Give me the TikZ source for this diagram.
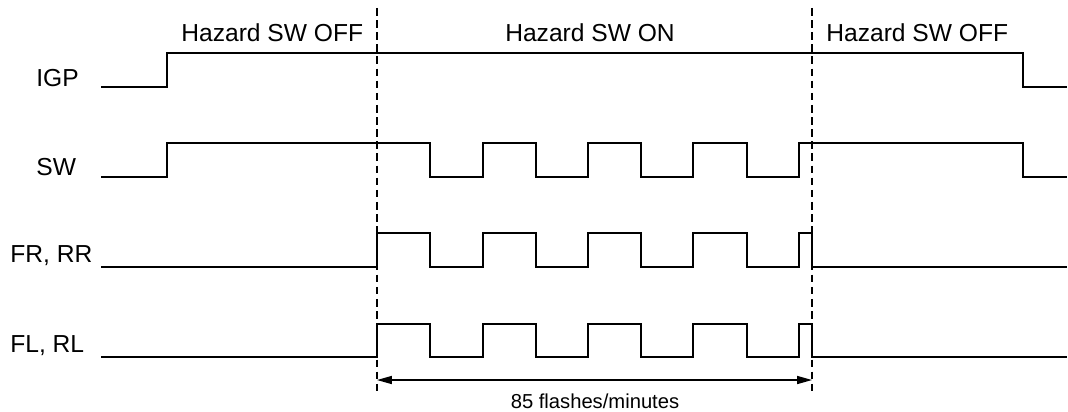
\documentclass[tikz,border=0pt]{standalone}
\usepackage{fontspec}
\setmainfont{Liberation Sans}
\usetikzlibrary{arrows.meta}

\begin{document}
\begin{tikzpicture}[x=0.02cm, y=-0.02cm,
  lbl/.style={inner sep=0pt, font=\fontsize{14}{16}\selectfont},
  sig/.style={line width=0.9pt},
  mark line/.style={line width=0.75pt, dash pattern=on 4.3pt off 2.6pt}]

\useasboundingbox (0,0) rectangle (1068,412);

\coordinate (d1top) at (377,8);
\coordinate (d1bot) at (377,392);
\coordinate (d2top) at (812,8);
\coordinate (d2bot) at (812,392);
\coordinate (a1) at (377,380);
\coordinate (a2) at (812,380);

\begin{scope}[sig]
\draw (101,87) -| (167,53) -| (1023,87) -- (1067,87);
\draw (101,177) -| (167,143) -| (430,177) -| (483,143) -| (536,177) -| (588,143)
  -| (641,177) -| (693,143) -| (747,177) -| (799,143) -| (1023,177) -- (1067,177);
\draw (101,267) -| (377,233) -| (430,267) -| (483,233) -| (536,267) -| (588,233)
  -| (641,267) -| (693,233) -| (747,267) -| (799,233) -| (812,267) -- (1067,267);
\draw (101,357) -| (377,324) -| (430,357) -| (483,324) -| (536,357) -| (588,324)
  -| (641,357) -| (693,324) -| (747,357) -| (799,324) -| (812,357) -- (1067,357);
\end{scope}

\draw [mark line] (d1top) -- (d1bot);
\draw [mark line] (d2top) -- (d2bot);

\node [lbl, anchor=west] (off1) at (181,33) {Hazard SW OFF};
\node [lbl] (on) at (590,33) {Hazard SW ON};
\node [lbl, anchor=west] (off2) at (826,33) {Hazard SW OFF};

\node [lbl, anchor=west] (igp) at (36,78) {IGP};
\node [lbl, anchor=west] (sw) at (36,167) {SW};
\node [lbl, anchor=west] (frrr) at (10,256) {FR, RR};
\node [lbl, anchor=west] (flrl) at (10,346) {FL, RL};

\draw [line width=0.75pt, {Triangle[length=8.5pt,width=4.6pt]}-{Triangle[length=8.5pt,width=4.6pt]}] (a1) -- (a2);
\node [inner sep=0pt, font=\fontsize{11.5}{13}\selectfont] (rate) at (595,401) {85 flashes/minutes};

\end{tikzpicture}
\end{document}
